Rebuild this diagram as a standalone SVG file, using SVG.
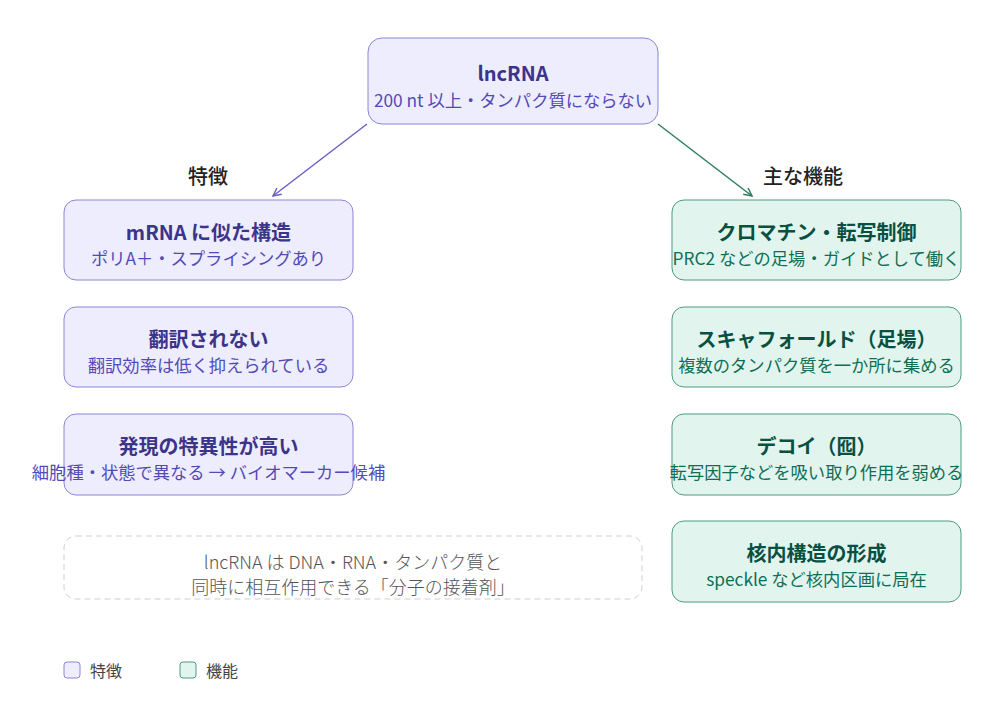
<svg xmlns="http://www.w3.org/2000/svg" width="998" height="705" viewBox="0 0 998 705">
<style>
text{font-family:"Noto Sans CJK JP","Noto Sans",sans-serif;text-anchor:middle;dominant-baseline:central}
.p rect{fill:#EEEDFE;stroke:#8C84D6;stroke-width:1}
.g rect{fill:#E1F5EE;stroke:#4E9A7E;stroke-width:1}
.t{font-size:20px;font-weight:700}
.s{font-size:17.3px;font-weight:400}
.p .t{fill:#3C3489}.p .s{fill:#534AB7}
.g .t{fill:#085041}.g .s{fill:#0F6E56}
.lbl{font-size:20px;font-weight:500;fill:#222}
.leg{font-size:16px;fill:#444;text-anchor:start}
.note{font-size:18px;font-weight:300;fill:#555}
</style>
<defs>
<marker id="ap" viewBox="0 0 10 10" refX="9" refY="5" markerWidth="10" markerHeight="10" markerUnits="userSpaceOnUse" orient="auto"><path d="M1,1 L9,5 L1,9" fill="none" stroke="#6B61C4" stroke-width="1.5"/></marker>
<marker id="ag" viewBox="0 0 10 10" refX="9" refY="5" markerWidth="10" markerHeight="10" markerUnits="userSpaceOnUse" orient="auto"><path d="M1,1 L9,5 L1,9" fill="none" stroke="#2F7D60" stroke-width="1.5"/></marker>
</defs>
<rect width="998" height="705" fill="#fff"/>
<g id="connectors">
<line x1="367" y1="124" x2="273" y2="196" stroke="#6B61C4" stroke-width="1.5" marker-end="url(#ap)"/>
<line x1="658" y1="124" x2="752" y2="196" stroke="#2F7D60" stroke-width="1.5" marker-end="url(#ag)"/>
</g>
<text class="lbl" x="208" y="175">特徴</text>
<text class="lbl" x="803" y="175">主な機能</text>
<g id="root" class="p">
<rect x="368" y="38" width="290" height="86" rx="14"/>
<text class="t" x="513" y="72">lncRNA</text>
<text class="s" x="513" y="99">200 nt 以上・タンパク質にならない</text>
</g>
<g id="feat1" class="p">
<rect x="64" y="200" width="289" height="80" rx="12"/>
<text class="t" x="208.5" y="231">mRNA に似た構造</text>
<text class="s" x="208.5" y="257">ポリA＋・スプライシングあり</text>
</g>
<g id="feat2" class="p">
<rect x="64" y="307" width="289" height="80" rx="12"/>
<text class="t" x="208.5" y="338">翻訳されない</text>
<text class="s" x="208.5" y="364">翻訳効率は低く抑えられている</text>
</g>
<g id="feat3" class="p">
<rect x="64" y="414" width="289" height="81" rx="12"/>
<text class="t" x="208.5" y="445">発現の特異性が高い</text>
<text class="s" x="208.5" y="471">細胞種・状態で異なる → バイオマーカー候補</text>
</g>
<g id="func1" class="g">
<rect x="672" y="200" width="289" height="80" rx="12"/>
<text class="t" x="816.5" y="231">クロマチン・転写制御</text>
<text class="s" x="816.5" y="257">PRC2 などの足場・ガイドとして働く</text>
</g>
<g id="func2" class="g">
<rect x="672" y="307" width="289" height="80" rx="12"/>
<text class="t" x="816.5" y="338">スキャフォールド（足場）</text>
<text class="s" x="816.5" y="364">複数のタンパク質を一か所に集める</text>
</g>
<g id="func3" class="g">
<rect x="672" y="414" width="289" height="81" rx="12"/>
<text class="t" x="816.5" y="445">デコイ（囮）</text>
<text class="s" x="816.5" y="471">転写因子などを吸い取り作用を弱める</text>
</g>
<g id="func4" class="g">
<rect x="672" y="521" width="289" height="81" rx="12"/>
<text class="t" x="816.5" y="552">核内構造の形成</text>
<text class="s" x="816.5" y="578">speckle など核内区画に局在</text>
</g>
<g id="note">
<rect x="64" y="536" width="578" height="63" rx="12" fill="none" stroke="#CFCFCF" stroke-width="1" stroke-dasharray="6 4"/>
<text class="note" x="353" y="561">lncRNA は DNA・RNA・タンパク質と</text>
<text class="note" x="353" y="586">同時に相互作用できる「分子の接着剤」</text>
</g>
<g id="legend">
<rect x="64" y="662" width="16" height="16" rx="3" fill="#EEEDFE" stroke="#8C84D6"/>
<text class="leg" x="90" y="670">特徴</text>
<rect x="180" y="662" width="16" height="16" rx="3" fill="#E1F5EE" stroke="#4E9A7E"/>
<text class="leg" x="206" y="670">機能</text>
</g>
</svg>
